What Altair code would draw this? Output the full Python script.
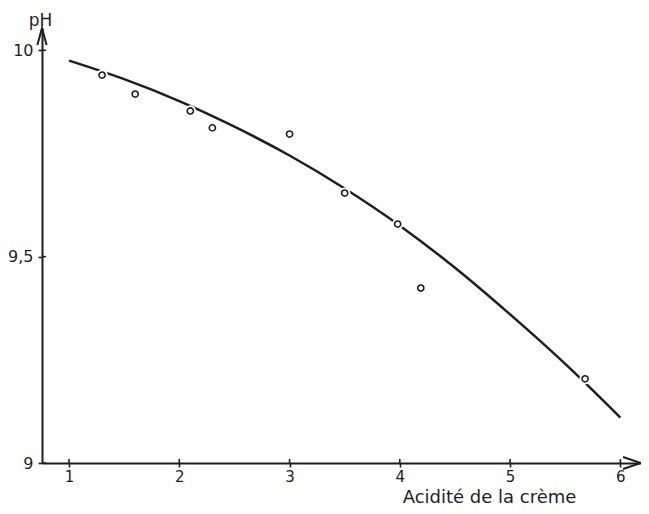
import altair as alt
import pandas as pd

# measured points
acid = [1.3, 1.6, 2.1, 2.3, 3.0, 3.5, 3.98, 4.19, 5.68]
ph = [9.94, 9.894, 9.853, 9.812, 9.797, 9.654, 9.579, 9.424, 9.204]

# fitted curve
curve_x = [1.0, 1.5, 2.0, 2.5, 3.0, 3.5, 4.0, 4.5, 5.0, 5.5, 6.0]
curve_y = [9.975, 9.93, 9.877, 9.815, 9.745, 9.665, 9.575, 9.473, 9.36, 9.24, 9.11]

x_ticks = [1, 2, 3, 4, 5, 6]
y_ticks = [9, 9.5, 10]
x_domain = [0.755, 6.187]
y_domain = [9.0, 10.054]

INK = "#1e1e1e"
FONT = "DejaVu Sans"

pts = pd.DataFrame({"x": acid, "y": ph})
crv = pd.DataFrame({"x": curve_x, "y": curve_y})
xt = pd.DataFrame({"x": x_ticks, "y": [y_domain[0]] * len(x_ticks)})
yt = pd.DataFrame({"y": y_ticks, "x": [x_domain[0]] * len(y_ticks)})
arr_x = pd.DataFrame({"x": [x_domain[1]], "y": [y_domain[0]]})
arr_y = pd.DataFrame({"x": [x_domain[0]], "y": [y_domain[1]]})

xs = alt.Scale(domain=x_domain, nice=False, zero=False)
ys = alt.Scale(domain=y_domain, nice=False, zero=False)

xaxis = alt.Axis(values=x_ticks, format="d", ticks=True, tickSize=4, tickWidth=1.6, tickColor=INK,
                 grid=False, domainColor=INK, domainWidth=2,
                 labelFont=FONT, labelFontSize=15, labelColor=INK, labelPadding=2,
                 title="Acidité de la crème", titleFont=FONT, titleFontSize=18,
                 titleFontWeight="normal", titleColor=INK, titleX=447, titleY=39,
                 titleAlign="center", titleBaseline="alphabetic")
yaxis = alt.Axis(values=y_ticks, format="~g", ticks=True, tickSize=4, tickWidth=1.6, tickColor=INK,
                 grid=False, domainColor=INK, domainWidth=2,
                 labelFont=FONT, labelFontSize=16, labelColor=INK, labelPadding=5,
                 labelExpr="replace(datum.label, '.', ',')",
                 title="pH", titleFont=FONT, titleFontSize=17, titleFontWeight="normal",
                 titleColor=INK, titleAngle=0, titleX=-2, titleY=-8,
                 titleAlign="center", titleBaseline="middle")

enc = dict(x=alt.X("x:Q", scale=xs), y=alt.Y("y:Q", scale=ys))

line = alt.Chart(crv).mark_line(color=INK, strokeWidth=2.5, interpolate="monotone").encode(
    x=alt.X("x:Q", scale=xs, axis=xaxis),
    y=alt.Y("y:Q", scale=ys, axis=yaxis),
)
halo = alt.Chart(pts).mark_point(shape="circle", filled=True, color="white", size=130, opacity=1).encode(**enc)
dots = alt.Chart(pts).mark_point(shape="circle", filled=False, color=INK, size=38, strokeWidth=1.6, opacity=1).encode(**enc)
xtick = alt.Chart(xt).mark_point(shape="M0,-1L0,0", filled=False, color=INK, size=64,
                                 strokeWidth=1.6, opacity=1, clip=False).encode(**enc)
ytick = alt.Chart(yt).mark_point(shape="M0,0L1,0", filled=False, color=INK, size=64,
                                 strokeWidth=1.6, opacity=1, clip=False).encode(**enc)
ax_arrow = alt.Chart(arr_x).mark_point(shape="M-1,-0.33L0,0L-1,0.33", filled=False, color=INK,
                                      size=1296, strokeWidth=2, opacity=1, clip=False).encode(**enc)
ay_arrow = alt.Chart(arr_y).mark_point(shape="M-0.27,1L0,0L0.27,1", filled=False, color=INK,
                                      size=1156, strokeWidth=2, opacity=1, clip=False).encode(**enc)

chart = alt.layer(line, halo, dots, xtick, ytick, ax_arrow, ay_arrow).properties(
    width=599, height=435,
    autosize=alt.AutoSizeParams(type="none"),
    padding={"left": 34, "top": 20, "right": 0, "bottom": 43},
    background="white",
).configure_view(stroke=None)

chart.save("out.html", embed_options={"renderer": "svg", "actions": False})
